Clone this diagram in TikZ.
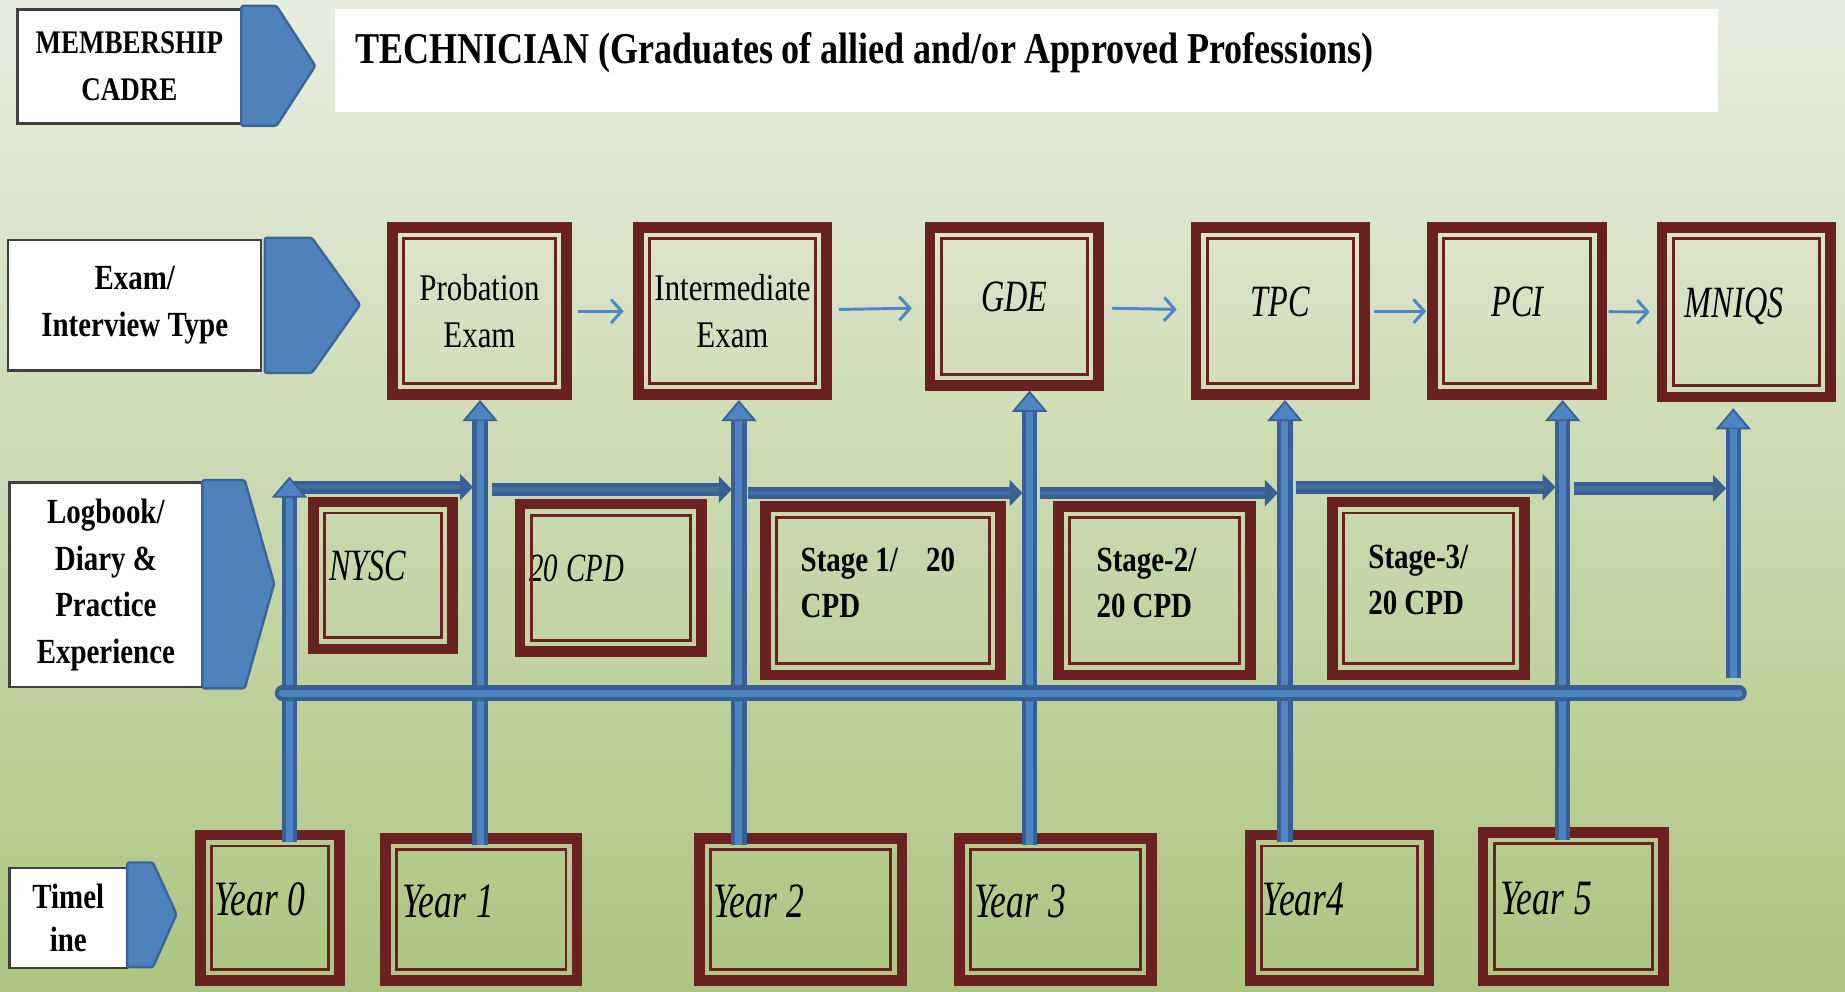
\documentclass[tikz,border=0pt]{standalone}
\usepackage{fontspec}
\setmainfont{Liberation Serif}[FakeStretch=0.82]
\newfontfamily\narrowfont{Liberation Serif}[FakeStretch=0.72]
\usepackage{tikz}
\usetikzlibrary{positioning, calc, arrows.meta}

\definecolor{BoxRed}{RGB}{107,33,33}
\definecolor{BarEdge}{RGB}{56,96,146}
\definecolor{BarCore}{RGB}{79,132,196}
\definecolor{BarMid}{RGB}{66,110,163}
\definecolor{ArrowBlue}{RGB}{74,134,200}
\definecolor{BgTop}{RGB}{232,238,224}
\definecolor{BgBottom}{RGB}{172,197,128}
\definecolor{PtrEdge}{RGB}{60,100,150}
\definecolor{PtrFill}{RGB}{79,129,189}

\begin{document}
\begin{tikzpicture}[x=1pt, y=-1pt,
		LabelNode/.style={rectangle, draw=black!75, line width=2pt, fill=white, align=center, inner sep=0pt, font=\fontsize{30}{40}\selectfont\bfseries},
		PointerShape/.style={fill=PtrFill, draw=PtrEdge, line width=2pt, rounded corners=2pt},
		FrameNode/.style={rectangle, draw=BoxRed, line width=9pt, inner sep=0pt, align=left, execute at begin node={\spaceskip=0.2em\relax}},
		InnerLine/.style={draw=BoxRed, line width=2.5pt},
		ExamText/.style={align=center, font=\fontsize{32}{40}\selectfont},
		ItalText/.style={font=\narrowfont\itshape\fontsize{38}{44}\selectfont, text depth=16pt},
		YearText/.style={font=\narrowfont\itshape\fontsize{42}{44}\selectfont, text depth=14pt},
		StageText/.style={font=\fontsize{30}{39}\selectfont\bfseries, text depth=53pt},
		ThinArrow/.style={draw=ArrowBlue, line width=2.5pt, -{Straight Barb[length=9pt, width=20pt]}},
		BigArrow/.style={draw=BarEdge, line width=13pt, -{Triangle[width=30pt, length=18pt, fill=BarCore, line width=1.5pt]}, postaction={draw=BarCore, line width=6pt, -, shorten >=18pt}},
		FlatArrow/.style={draw=BarEdge, line width=11pt, -{Triangle[width=22pt, length=11pt]}, postaction={draw=BarMid, line width=4pt, -, shorten >=11pt}},
		BusBar/.style={draw=BarEdge, line width=13pt, line cap=round, postaction={draw=BarCore, line width=6pt}}]

	% Background
	\fill[top color=BgTop, bottom color=BgBottom] (0,0) rectangle (1568,843);
	\useasboundingbox (0,0) rectangle (1568,843);

	% Row labels
	\node[LabelNode, minimum width=190pt, minimum height=97pt, font=\fontsize{28}{40}\selectfont\bfseries] (cadre) at (110,56.5) {MEMBERSHIP\\CADRE};
	\node[LabelNode, minimum width=215pt, minimum height=111pt] (examlbl) at (114.5,259.5) {Exam/\\Interview Type};
	\node[LabelNode, minimum width=164pt, minimum height=174pt, font=\fontsize{30}{39.5}\selectfont\bfseries] (loglbl) at (90,497) {Logbook/\\Diary \&\\Practice\\Experience};
	\node[LabelNode, minimum width=100pt, minimum height=85pt, font=\fontsize{30}{37}\selectfont\bfseries] (timelbl) at (58,780) {Timel\\ine};

	\draw[PointerShape] (205,5) -- (235,5) -- (268,56) -- (235,107) -- (205,107) -- cycle;
	\draw[PointerShape] (225,202) -- (265,202) -- (306,259) -- (265,317) -- (225,317) -- cycle;
	\draw[PointerShape] (172,408) -- (208,408) -- (233,496) -- (208,585) -- (172,585) -- cycle;
	\draw[PointerShape] (108,733) -- (130,733) -- (150,777) -- (130,822) -- (108,822) -- cycle;

	\node[fill=white, inner sep=0pt, minimum width=1175pt, minimum height=87pt, text width=1141pt, align=left, text height=30pt, text depth=25pt, execute at begin node={\spaceskip=0.2em\relax}, font=\fontsize{37.4}{40}\selectfont\bfseries] (title) at (872.5,51.5) {TECHNICIAN (Graduates of allied and/or Approved Professions)};

	% Exam nodes
	\node[FrameNode, ExamText, minimum width=148pt, minimum height=142pt] (prob) at (407.5,264.5) {Probation\\Exam};
	\node[FrameNode, ExamText, minimum width=160pt, minimum height=142pt] (inter) at (622.5,264.5) {Intermediate\\Exam};
	\node[FrameNode, ItalText, minimum width=143pt, minimum height=134pt] (gde) at (862,260.5) {GDE};
	\node[FrameNode, ItalText, minimum width=143pt, minimum height=142pt] (tpc) at (1088,264.5) {TPC};
	\node[FrameNode, ItalText, minimum width=144pt, minimum height=142pt] (pci) at (1289.5,264.5) {PCI};
	\node[FrameNode, ItalText, minimum width=143pt, minimum height=144pt, text width=104pt] (mniqs) at (1484,265.5) {MNIQS};

	% Logbook nodes
	\node[FrameNode, ItalText, minimum width=118pt, minimum height=125pt, text width=91pt] (nysc) at (325.5,489) {NYSC};
	\node[FrameNode, ItalText, font=\narrowfont\itshape\fontsize{34}{40}\selectfont, minimum width=154pt, minimum height=125pt, text width=138pt] (cpd) at (519,491) {20 CPD};
	\node[FrameNode, StageText, minimum width=200pt, minimum height=143pt, text width=140pt] (stage1) at (750.5,502) {Stage 1/\hspace{24pt}20\\CPD};
	\node[FrameNode, StageText, minimum width=163pt, minimum height=143pt, text width=98pt] (stage2) at (981,502) {Stage-2/\\20 CPD};
	\node[FrameNode, StageText, minimum width=163pt, minimum height=147pt, text width=102pt] (stage3) at (1214,500) {Stage-3/\\20 CPD};

	% Timeline nodes
	\node[FrameNode, YearText, minimum width=118pt, minimum height=124pt, text width=95pt] (year0) at (229.5,771.5) {Year 0};
	\node[FrameNode, YearText, minimum width=163pt, minimum height=121pt, text width=134pt] (year1) at (409,773) {Year 1};
	\node[FrameNode, YearText, minimum width=172pt, minimum height=121pt, text width=149pt] (year2) at (680.5,773) {Year 2};
	\node[FrameNode, YearText, minimum width=163pt, minimum height=121pt, text width=138pt] (year3) at (897,773) {Year 3};
	\node[FrameNode, YearText, minimum width=152pt, minimum height=124pt, text width=131pt] (year4) at (1138.5,771.5) {Year4};
	\node[FrameNode, YearText, minimum width=153pt, minimum height=126pt, text width=124pt] (year5) at (1337,770.5) {Year 5};

	\foreach \n in {prob, inter, gde, tpc, pci, mniqs, nysc, cpd, stage1, stage2, stage3, year0, year1, year2, year3, year4, year5}
		\draw[InnerLine] ($(\n.north west)+(14,14)$) rectangle ($(\n.south east)+(-14,-14)$);

	% Lines
	\foreach \a/\b/\s/\e in {prob/inter/5pt/8pt, inter/gde/6pt/11pt, gde/tpc/7pt/12pt, tpc/pci/4pt/1pt, pci/mniqs/1pt/6pt}
		\draw[ThinArrow, shorten <=\s, shorten >=\e] (\a) -- (\b);

	\coordinate (foot0) at (246,716);
	\coordinate (tip0) at (246,405);
	\coordinate (foot1) at (408,718);
	\coordinate (foot2) at (628,718);
	\coordinate (foot3) at (875,718);
	\coordinate (foot4) at (1092,716);
	\coordinate (foot5) at (1328,714);
	\coordinate (foot6) at (1473,576);
	\coordinate (tip6) at (1473,347);
	\coordinate (busL) at (240,589);
	\coordinate (busR) at (1478,589);

	\foreach \a/\b/\h/\s in {foot0/foot1/414/-3pt, foot1/foot2/416/10pt, foot2/foot3/419/8pt, foot3/foot4/419/9pt, foot4/foot5/414/9pt, foot5/foot6/415/10pt}
		\draw[FlatArrow] ([xshift=\s]\a |- 0,\h) -- ([xshift=-6pt]\b |- 0,\h);

	\draw[BigArrow] (foot0) -- (tip0);
	\foreach \f/\n in {foot1/prob, foot2/inter, foot3/gde, foot4/tpc, foot5/pci}
		\draw[BigArrow] (\f) -- (\f |- \n.south);
	\draw[BigArrow] (foot6) -- (tip6);

	\draw[BusBar] (busL) -- (busR);
\end{tikzpicture}
\end{document}
